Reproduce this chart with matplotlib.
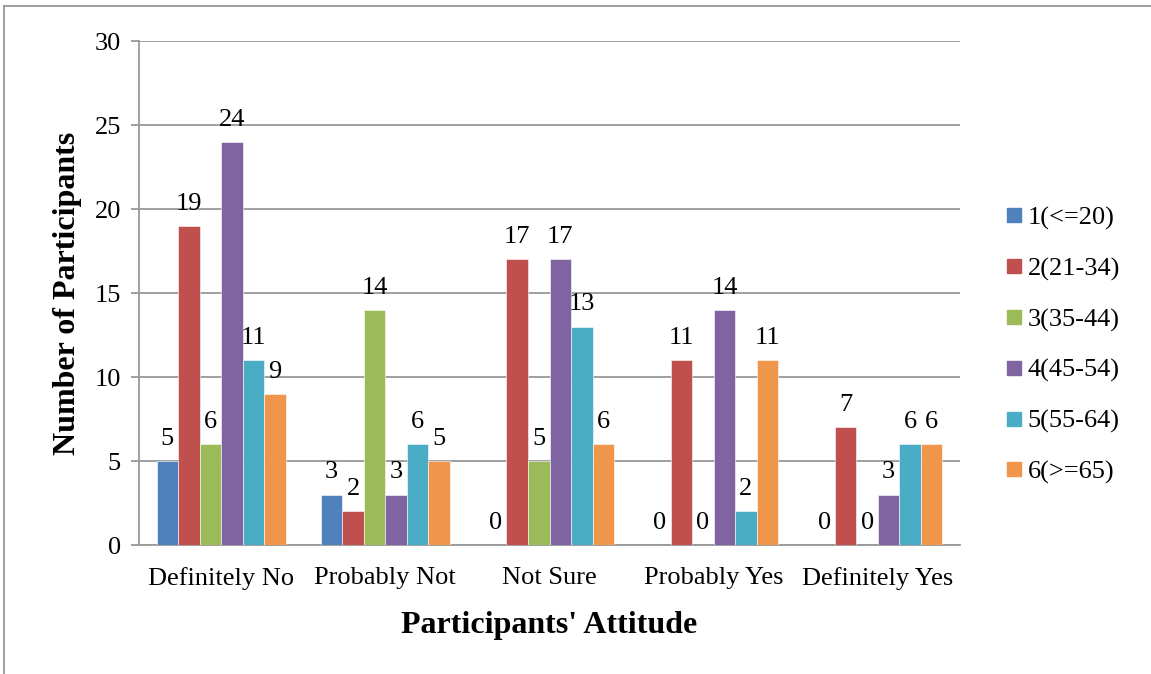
import matplotlib
matplotlib.use('Agg')
from matplotlib import pyplot as plt
from matplotlib.lines import Line2D
import numpy as np

plt.rcParams['font.family'] = ['Liberation Serif', 'DejaVu Serif']

categories = ['Definitely No', 'Probably Not', 'Not Sure', 'Probably Yes', 'Definitely Yes']
series_names = ['1(<=20)', '2(21-34)', '3(35-44)', '4(45-54)', '5(55-64)', '6(>=65)']
age_1 = [5, 3, 0, 0, 0]
age_2 = [19, 2, 17, 11, 7]
age_3 = [6, 14, 5, 0, 0]
age_4 = [24, 3, 17, 14, 3]
age_5 = [11, 6, 13, 2, 6]
age_6 = [9, 5, 6, 11, 6]
colors = ['#4F81BD', '#C0504D', '#9BBB59', '#8064A2', '#4BACC6', '#F0964B']

all_series = [age_1, age_2, age_3, age_4, age_5, age_6]

fig = plt.figure(figsize=(11.51, 6.74), dpi=100)
ax = fig.add_axes([139/1151, 1-545/674, (960-139)/1151, (545-41)/674])

x = np.arange(len(categories))
w = 0.131
for i, vals in enumerate(all_series):
    pos = x + (i - 2.5) * w
    ax.bar(pos, vals, w, color=colors[i], edgecolor='white', linewidth=0.4,
           label=series_names[i], zorder=3)
    for p, v in zip(pos, vals):
        ax.annotate(str(v), (p, v), xytext=(0, 8), textcoords='offset points',
                    ha='center', va='bottom', fontsize=19)

ax.set_xlim(-0.5, 4.5)
ax.set_ylim(0, 30)
ax.set_yticks(range(0, 31, 5))
ax.set_xticks(x)
ax.set_xticklabels(categories)
ax.tick_params(axis='x', length=0, labelsize=19, pad=16)
ax.tick_params(axis='y', length=6, color='#999999', width=1.3, labelsize=19, pad=7)
ax.grid(axis='y', color='#999999', linewidth=1.3, zorder=0)
for s in ['top', 'right']:
    ax.spines[s].set_visible(False)
for s in ['left', 'bottom']:
    ax.spines[s].set_color('#999999')
    ax.spines[s].set_linewidth(1.3)

ax.set_ylabel('Number of Participants', fontsize=23, fontweight='bold', labelpad=9)
ax.set_xlabel("Participants' Attitude", fontsize=23, fontweight='bold', labelpad=15)

handles = [Line2D([], [], marker='s', linestyle='none', markersize=10,
                  markerfacecolor=c, markeredgecolor=c) for c in colors]
fig.legend(handles, series_names, loc='center left', bbox_to_anchor=(983/1151, 1-345/674),
           frameon=False, fontsize=19, handlelength=0.55, handletextpad=0.25,
           labelspacing=1.02)

# outer chart border (only top and left visible in the crop)
fig.add_artist(Line2D([4/1151, 4/1151], [0, 1-6/674], transform=fig.transFigure,
                      color='#999999', linewidth=1.3))
fig.add_artist(Line2D([4/1151, 1], [1-6/674, 1-6/674], transform=fig.transFigure,
                      color='#999999', linewidth=1.3))

plt.savefig('out.png', dpi=100)
